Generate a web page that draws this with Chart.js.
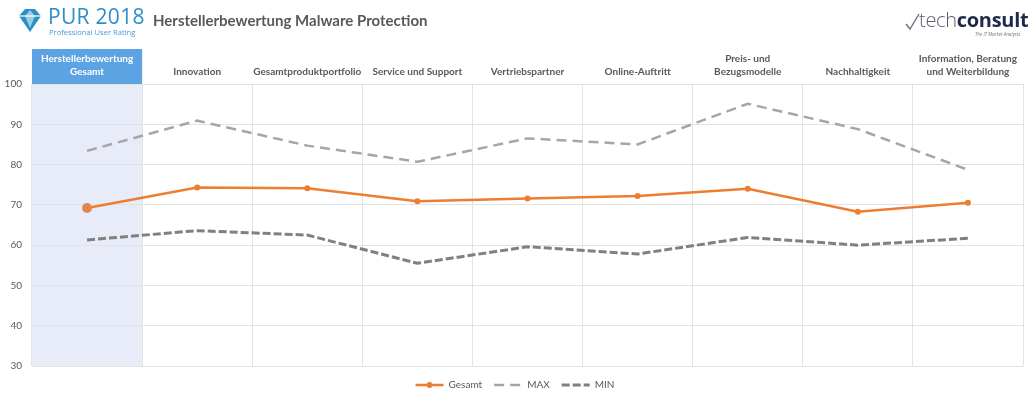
<!DOCTYPE html>
<html lang="de">
<head>
<meta charset="utf-8">
<title>Herstellerbewertung Malware Protection</title>
<script src="https://cdn.jsdelivr.net/npm/chart.js@4"></script>
<style>
  html, body { margin: 0; padding: 0; background: #fff; }
  #wrap { position: relative; width: 1030px; height: 397px; overflow: hidden; }
  #chartBox { position: absolute; left: 0; top: 0; width: 1030px; height: 397px; }
  .pur { position: absolute; left: 16px; top: 5px; }
  .pur svg { position: absolute; left: 0; top: 2px; }
  .pur .big { position: absolute; left: 32px; top: -3px; font: 400 21px 'Open Sans', sans-serif; color: #2b8fc6; letter-spacing: 0.3px; white-space: nowrap; }
  .pur .small { position: absolute; left: 33px; top: 22px; font: 400 7.6px 'Open Sans', sans-serif; color: #3d9fd8; white-space: nowrap; }
  .title { position: absolute; left: 153px; top: 11px; font: 700 15px Lato, sans-serif; color: #595959; white-space: nowrap; }
  .tc { position: absolute; left: 905px; top: 4px; width: 125px; height: 40px; }
  .tc .word { position: absolute; left: 14px; top: 2px; font: 300 20px 'Open Sans', sans-serif; color: #5a5f6a; white-space: nowrap; letter-spacing: -0.3px; }
  .tc .word b { font-weight: 700; color: #1f2a4b; }
  .tc .sub { position: absolute; left: 70px; top: 27px; font: italic 400 4.6px 'Open Sans', sans-serif; color: #777; white-space: nowrap; }
</style>
</head>
<body>
<div id="wrap">
  <div id="chartBox"><canvas id="chart"></canvas></div>
  <div class="pur">
    <svg width="28" height="26" viewBox="0 0 28 26">
      <polygon points="3,9 9,2 19,2 25,9 14,25" fill="#2b8fc6"/>
      <polygon points="9,9 14,3 19,9 14,21" fill="#ffffff" opacity="0.55"/>
      <line x1="3" y1="9" x2="25" y2="9" stroke="#ffffff" stroke-width="1.2"/>
    </svg>
    <span class="big">PUR 2018</span>
    <span class="small">Professional User Rating</span>
  </div>
  <div class="title">Herstellerbewertung Malware Protection</div>
  <div class="tc">
    <svg width="16" height="20" viewBox="0 0 16 20" style="position:absolute;left:0;top:8px">
      <path d="M1 12 L5 17 L14 2" fill="none" stroke="#6b7080" stroke-width="1.4"/>
    </svg>
    <span class="word">tech<b>consult</b></span>
    <span class="sub">The IT Market Analysts</span>
  </div>
</div>
<script>
// Werte
const categories = [
  ['Herstellerbewertung', 'Gesamt'],
  'Innovation',
  'Gesamtproduktportfolio',
  'Service und Support',
  'Vertriebspartner',
  'Online-Auftritt',
  ['Preis- und', 'Bezugsmodelle'],
  'Nachhaltigkeit',
  ['Information, Beratung', 'und Weiterbildung']
];
const gesamtValues = [69.2, 74.3, 74.1, 70.9, 71.6, 72.2, 74.0, 68.3, 70.5];
const maxValues = [83.4, 90.9, 84.7, 80.7, 86.5, 85.0, 95.1, 88.8, 78.7];
const minValues = [61.3, 63.6, 62.5, 55.5, 59.6, 57.8, 61.9, 60.0, 61.7];
const yMin = 30;
const yMax = 100;
const yStep = 10;

const textGray = '#595959';
const gridGray = '#e3e3e3';

// blaue Kopfzeile + hellblaue Spalte fuer die erste Kategorie
const firstColumn = {
  id: 'firstColumn',
  beforeDraw(chart) {
    const x = chart.scales.x;
    const area = chart.chartArea;
    const half = (x.getPixelForTick(1) - x.getPixelForTick(0)) / 2;
    const left = x.getPixelForTick(0) - half;
    const ctx = chart.ctx;
    ctx.save();
    ctx.fillStyle = '#e8ecf8';
    ctx.fillRect(left, area.top, half * 2, area.bottom - area.top);
    ctx.fillStyle = '#5ba3e2';
    ctx.fillRect(left, area.top - 35, half * 2, 36);
    ctx.restore();
  }
};

// Legende unten, im Stil der Linien
const lineLegend = {
  id: 'lineLegend',
  afterDraw(chart) {
    const ctx = chart.ctx;
    const y = chart.chartArea.bottom + 19;
    const segLen = 28, gap = 5, spacing = 12;
    ctx.save();
    ctx.font = '10px Lato';
    const items = chart.data.datasets.map(ds => ({ ds, w: segLen + gap + ctx.measureText(ds.label).width }));
    const total = items.reduce((s, i) => s + i.w, 0) + spacing * (items.length - 1);
    let x = (chart.width - total) / 2;
    items.forEach(({ ds, w }) => {
      ctx.strokeStyle = ds.borderColor;
      ctx.lineWidth = ds.borderWidth;
      ctx.setLineDash(ds.borderDash || []);
      ctx.beginPath();
      ctx.moveTo(x, y);
      ctx.lineTo(x + segLen, y);
      ctx.stroke();
      if (ds.pointRadius !== 0) {
        ctx.fillStyle = ds.borderColor;
        ctx.beginPath();
        ctx.arc(x + segLen / 2, y, 3, 0, Math.PI * 2);
        ctx.fill();
      }
      ctx.fillStyle = textGray;
      ctx.textBaseline = 'middle';
      ctx.fillText(ds.label, x + segLen + gap, y);
      x += w + spacing;
    });
    ctx.restore();
  }
};

new Chart(document.getElementById('chart'), {
  type: 'line',
  data: {
    labels: categories,
    datasets: [{
      label: 'Gesamt',
      data: gesamtValues,
      borderColor: '#ed7d31',
      backgroundColor: '#ed7d31',
      borderWidth: 2.5,
      pointRadius: ctx => ctx.dataIndex === 0 ? 5 : 3,
      pointBackgroundColor: ctx => ctx.dataIndex === 0 ? '#e2874c' : '#ed7d31',
      pointBorderWidth: 0,
      tension: 0
    }, {
      label: 'MAX',
      data: maxValues,
      borderColor: '#a6a6a6',
      borderWidth: 2.5,
      borderDash: [10, 6],
      pointRadius: 0,
      tension: 0
    }, {
      label: 'MIN',
      data: minValues,
      borderColor: '#808080',
      borderWidth: 3,
      borderDash: [8, 3],
      pointRadius: 0,
      tension: 0
    }]
  },
  options: {
    responsive: true,
    maintainAspectRatio: false,
    animation: false,
    layout: { padding: { left: 0, right: 7, top: 0, bottom: 31 } },
    plugins: {
      legend: { display: false },
      tooltip: { enabled: false }
    },
    scales: {
      x: {
        position: 'top',
        offset: true,
        afterFit: s => { s.height = 84; },
        grid: { offset: true, color: gridGray, drawTicks: false },
        border: { display: false },
        ticks: {
          autoSkip: false,
          maxRotation: 0,
          padding: 6,
          color: c => c.index === 0 ? '#ffffff' : textGray,
          font: { family: 'Lato', size: 10, weight: 'bold', lineHeight: 1.25 }
        }
      },
      y: {
        min: yMin,
        max: yMax,
        afterFit: s => { s.width = 32; },
        grid: { color: gridGray, drawTicks: false },
        border: { display: false },
        ticks: {
          stepSize: yStep,
          padding: 10,
          color: textGray,
          font: { family: 'Lato', size: 10 }
        }
      }
    }
  },
  plugins: [firstColumn, lineLegend]
});
</script>
</body>
</html>
